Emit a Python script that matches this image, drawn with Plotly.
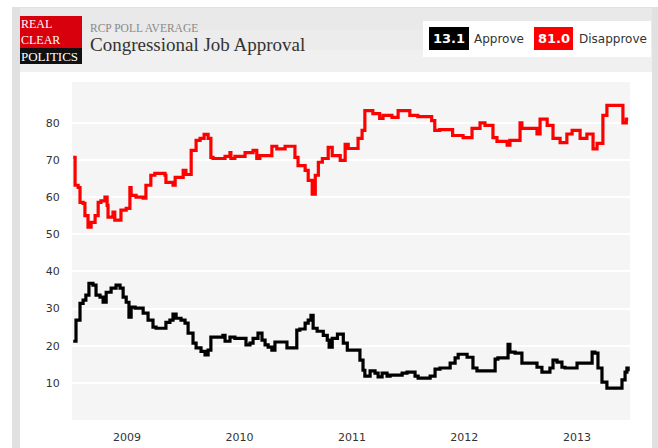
import plotly.graph_objects as go

# ---------------- data ----------------
disapprove_dates = [
    "2008-07-10", "2008-07-16", "2008-07-26", "2008-08-01", "2008-08-11", "2008-08-17",
    "2008-08-27", "2008-09-06", "2008-09-19", "2008-09-29", "2008-10-08", "2008-10-21",
    "2008-10-28", "2008-10-31", "2008-11-16", "2008-11-22", "2008-12-12", "2008-12-29",
    "2009-01-10", "2009-01-14", "2009-01-30", "2009-02-22", "2009-03-03", "2009-03-19",
    "2009-04-01", "2009-05-04", "2009-05-07", "2009-05-30", "2009-06-06", "2009-07-02",
    "2009-07-11", "2009-07-28", "2009-08-13", "2009-08-26", "2009-09-08", "2009-09-21",
    "2009-09-30", "2009-10-07", "2009-11-15", "2009-12-01", "2009-12-04", "2009-12-17",
    "2010-01-19", "2010-02-14", "2010-02-26", "2010-03-08", "2010-04-16", "2010-05-02",
    "2010-05-29", "2010-06-30", "2010-07-10", "2010-08-02", "2010-08-12", "2010-08-25",
    "2010-09-04", "2010-09-14", "2010-09-27", "2010-10-16", "2010-10-29", "2010-11-24",
    "2010-12-10", "2010-12-20", "2011-01-21", "2011-02-03", "2011-02-12", "2011-03-10",
    "2011-04-01", "2011-04-12", "2011-05-11", "2011-05-31", "2011-07-08", "2011-08-03",
    "2011-09-17", "2011-09-27", "2011-10-13", "2011-11-24", "2011-12-28", "2012-01-26",
    "2012-02-21", "2012-03-08", "2012-04-03", "2012-04-16", "2012-05-19", "2012-05-28",
    "2012-06-30", "2012-07-06", "2012-08-24", "2012-09-03", "2012-09-26", "2012-10-15",
    "2012-11-07", "2012-11-29", "2012-12-16", "2013-01-11", "2013-02-02", "2013-02-22",
    "2013-03-07", "2013-03-26", "2013-04-08", "2013-05-30", "2013-06-10", "2013-06-16",
]
disapprove_values = [
    70.7, 63.2, 62.6, 58.6, 58.3, 55.0,
    51.9, 53.2, 55.0, 58.6, 59.0, 60.0,
    57.8, 54.6, 56.0, 53.8, 56.5, 57.0,
    62.6, 60.5, 60.0, 59.7, 63.2, 65.9,
    66.4, 65.9, 64.0, 63.2, 65.3, 67.2,
    66.1, 72.6, 75.3, 75.8, 76.9, 75.8,
    70.7, 70.4, 71.0, 72.0, 70.4, 71.0,
    72.0, 72.6, 70.4, 71.2, 73.7, 73.0,
    73.7, 70.7, 68.5, 67.2, 64.5, 60.8,
    65.9, 69.4, 70.4, 73.4, 71.2, 69.9,
    74.2, 73.1, 75.8, 78.0, 83.3, 82.5,
    81.2, 82.0, 81.5, 83.3, 82.0, 81.7,
    80.6, 78.0, 78.2, 76.6, 76.0, 78.5,
    80.0, 79.3, 76.0, 75.0, 74.0, 75.3,
    80.0, 78.5, 77.0, 81.0, 79.3, 75.8,
    74.7, 77.0, 78.0, 75.8, 77.0, 73.0,
    74.5, 82.0, 84.7, 80.0, 81.0, 81.0,
]

approve_dates = [
    "2008-07-10", "2008-07-19", "2008-08-01", "2008-08-11", "2008-08-20", "2008-08-30",
    "2008-09-12", "2008-09-22", "2008-10-05", "2008-10-15", "2008-10-25", "2008-11-10",
    "2008-11-26", "2008-12-09", "2008-12-19", "2008-12-29", "2009-01-07", "2009-01-14",
    "2009-01-27", "2009-02-22", "2009-03-10", "2009-03-26", "2009-04-05", "2009-05-07",
    "2009-05-20", "2009-05-30", "2009-06-09", "2009-06-25", "2009-07-08", "2009-07-18",
    "2009-08-03", "2009-08-13", "2009-08-29", "2009-09-11", "2009-09-21", "2009-09-30",
    "2009-11-08", "2009-11-15", "2009-12-01", "2009-12-17", "2010-01-22", "2010-02-04",
    "2010-02-14", "2010-03-02", "2010-03-15", "2010-03-25", "2010-04-04", "2010-04-16",
    "2010-04-26", "2010-06-04", "2010-07-06", "2010-07-16", "2010-08-02", "2010-08-12",
    "2010-08-21", "2010-08-28", "2010-09-10", "2010-09-30", "2010-10-13", "2010-10-19",
    "2010-10-29", "2010-11-15", "2010-12-04", "2010-12-17", "2011-01-27", "2011-02-06",
    "2011-02-12", "2011-03-01", "2011-03-17", "2011-03-27", "2011-04-09", "2011-04-25",
    "2011-05-05", "2011-06-13", "2011-06-29", "2011-07-25", "2011-08-04", "2011-09-12",
    "2011-09-28", "2011-10-14", "2011-11-16", "2011-12-02", "2011-12-12", "2012-01-10",
    "2012-01-29", "2012-02-11", "2012-04-10", "2012-04-19", "2012-05-22", "2012-05-28",
    "2012-06-14", "2012-07-06", "2012-08-24", "2012-09-09", "2012-10-05", "2012-10-15",
    "2012-10-28", "2012-11-13", "2012-11-23", "2013-01-01", "2013-02-19", "2013-02-28",
    "2013-03-10", "2013-03-23", "2013-04-08", "2013-05-27", "2013-06-06", "2013-06-12",
    "2013-06-16",
]
approve_values = [
    21.2, 26.9, 31.4, 32.3, 33.6, 36.8,
    36.3, 33.6, 33.1, 31.7, 34.4, 35.5,
    36.3, 35.5, 33.1, 31.7, 27.7, 30.4,
    30.1, 28.8, 26.9, 25.0, 24.7, 26.3,
    26.9, 28.5, 27.4, 26.9, 26.1, 23.4,
    20.7, 19.4, 18.5, 17.5, 18.8, 22.3,
    22.8, 21.2, 22.3, 22.0, 20.2, 20.7,
    22.0, 23.4, 21.5, 20.2, 19.6, 18.8,
    21.0, 19.4, 24.2, 24.5, 26.1, 26.9,
    28.2, 24.7, 23.9, 22.8, 21.5, 19.6,
    22.0, 23.1, 20.7, 18.8, 16.1, 13.4,
    11.8, 13.2, 12.6, 11.6, 12.6, 11.8,
    12.1, 12.6, 12.9, 11.8, 11.3, 11.8,
    13.7, 14.0, 15.3, 16.7, 17.7, 16.9,
    14.0, 13.2, 16.4, 16.7, 20.4, 18.3,
    18.0, 15.3, 14.2, 12.9, 14.0, 16.1,
    15.6, 14.2, 14.0, 15.3, 18.3, 18.0,
    14.0, 10.2, 8.6, 10.8, 12.9, 14.0,
    13.1,
]

year_tick_dates = ["2009-01-01", "2010-01-01", "2011-01-01", "2012-01-01", "2013-01-01"]
year_tick_labels = ["2009", "2010", "2011", "2012", "2013"]
value_ticks = [10, 20, 30, 40, 50, 60, 70, 80]

latest_approve = approve_values[-1]
latest_disapprove = disapprove_values[-1]

# ---------------- layout geometry ----------------
W, H = 658, 448
L, R, T, B = 72, 28, 82, 28
PW, PH = W - L - R, H - T - B


def px(x):
    return (x - L) / PW


def py(y):
    return (H - B - y) / PH


def rect(x0, y0, x1, y1, color):
    return dict(type="rect", xref="paper", yref="paper", layer="below",
                x0=px(x0), x1=px(x1), y0=py(y1), y1=py(y0),
                fillcolor=color, line=dict(width=0))


shapes = [
    rect(12, 7, 660, 450, "#e1e1e1"),      # outer frame
    rect(20, 8, 652, 72, "#ececec"),       # header band
    rect(20, 8, 652, 30, "#e9e9e9"),
    rect(20, 50, 652, 72, "#f0f0f0"),
    rect(20, 72, 652, 450, "#ffffff"),     # white panel
    rect(L, T, W - R, H - B, "#f5f5f5"),   # plot background
    rect(20, 16, 82, 48, "#d8000c"),       # logo red
    rect(20, 48, 82, 64, "#111111"),       # logo black
    rect(423, 21, 651, 57, "#ffffff"),     # legend box
    rect(429, 27, 469, 50, "#000000"),
    rect(534, 27, 573, 50, "#ff0000"),
]


def text(x, y, s, size, color, family, xanchor="left", bold=False):
    if bold:
        s = "<b>" + s + "</b>"
    return dict(xref="paper", yref="paper", x=px(x), y=py(y), text=s,
                showarrow=False, xanchor=xanchor, yanchor="middle", align="left",
                font=dict(size=size, color=color, family=family))


serif = "Liberation Serif, DejaVu Serif, serif"
sans = "DejaVu Sans, Verdana, sans-serif"
annotations = [
    text(19, 32.5, "REAL<br>CLEAR", 12, "#ffffff", serif),
    text(19, 56, "POLITICS", 13, "#ffffff", serif),
    text(88, 28, "RCP POLL AVERAGE", 11.5, "#8a8a8a", serif),
    text(88, 44, "Congressional Job Approval", 19, "#333333", serif),
    text(449, 38.5, f"{latest_approve:.1f}", 13, "#ffffff", sans, "center", True),
    text(472, 38.5, "Approve", 12, "#333333", sans),
    text(553.5, 38.5, f"{latest_disapprove:.1f}", 13, "#ffffff", sans, "center", True),
    text(577, 38.5, "Disapprove", 12, "#333333", sans),
]

fig = go.Figure()
fig.add_trace(go.Scatter(x=disapprove_dates, y=disapprove_values, mode="lines",
                         line=dict(color="#ff0000", width=3.2, shape="hv"),
                         name="Disapprove", hoverinfo="x+y"))
fig.add_trace(go.Scatter(x=approve_dates, y=approve_values, mode="lines",
                         line=dict(color="#000000", width=3.2, shape="hv"),
                         name="Approve", hoverinfo="x+y"))

fig.update_layout(
    width=W, height=H,
    margin=dict(l=L, r=R, t=T, b=B, pad=0, autoexpand=False),
    paper_bgcolor="#ffffff",
    plot_bgcolor="rgba(0,0,0,0)",
    showlegend=False,
    shapes=shapes,
    annotations=annotations,
    font=dict(family=sans, size=11, color="#333333"),
    xaxis=dict(
        type="date",
        range=["2008-07-06", "2013-06-22"],
        tickvals=year_tick_dates, ticktext=year_tick_labels,
        showgrid=False, zeroline=False, showline=False, automargin=False,
        ticks="outside", ticklen=7, tickcolor="rgba(0,0,0,0)",
        tickfont=dict(family=sans, size=11, color="#333333"),
        fixedrange=True,
    ),
    yaxis=dict(
        range=[0, 91],
        tickvals=value_ticks,
        showgrid=True, gridcolor="#ffffff", gridwidth=1.5,
        zeroline=False, showline=False, automargin=False,
        ticks="outside", ticklen=9, tickcolor="rgba(0,0,0,0)",
        tickfont=dict(family=sans, size=11, color="#333333"),
        fixedrange=True,
    ),
)

fig.write_html("out.html", config={"displayModeBar": False})
